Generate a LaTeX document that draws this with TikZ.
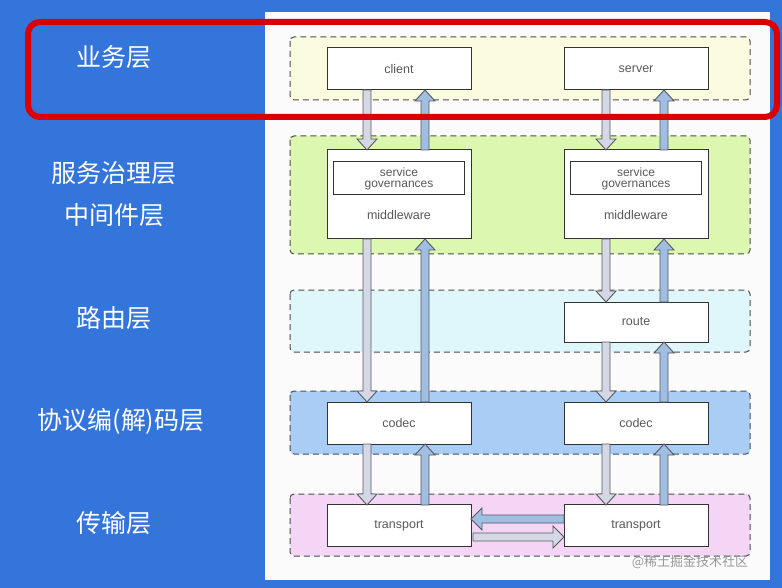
\documentclass[tikz,border=0pt]{standalone}
\usepackage{fontspec}
\setmainfont{Liberation Sans}
\newfontfamily\cjk{Noto Sans CJK SC}
\begin{document}
\begin{tikzpicture}[x=1pt,y=-1pt,
  band/.style={draw=black!70,dashed,line width=1pt,rounded corners=4pt,dash pattern=on 6pt off 4pt},
  comp/.style={draw=black!80,line width=1pt,fill=white,text=black!65,font=\fontsize{12.5}{13}\selectfont,minimum width=144pt,minimum height=42pt,inner sep=0pt},
  lab/.style={text=white,font=\cjk\fontsize{25}{30}\selectfont},
  arrowline/.style={draw=black!65,line width=0.9pt,line join=miter}]
\useasboundingbox (0,0) rectangle (782,588);
\fill[fill={rgb,255:red,52;green,117;blue,220}] (0,0) rectangle (782,588);
\fill[white!97!gray] (265,12) rectangle (770,580);
% bands
\draw[band,fill={rgb,255:red,251;green,251;blue,223}] (290,37) rectangle (750,100);
\draw[band,fill={rgb,255:red,220;green,247;blue,176}] (290,136) rectangle (750,254);
\draw[band,fill={rgb,255:red,223;green,247;blue,250}] (290,290) rectangle (750,352);
\draw[band,fill={rgb,255:red,169;green,205;blue,245}] (290,391) rectangle (750,454);
\draw[band,fill={rgb,255:red,245;green,213;blue,245}] (290,494) rectangle (750,556);
% arrows
\newcommand\dnarr[4]{\draw[arrowline,fill=#4] (#1-4,#2) -- (#1-4,#3-11) -- (#1-10,#3-11) -- (#1,#3) -- (#1+10,#3-11) -- (#1+4,#3-11) -- (#1+4,#2) -- cycle;}
\newcommand\uparr[4]{\draw[arrowline,fill=#4] (#1-4,#2) -- (#1-4,#3+11) -- (#1-10,#3+11) -- (#1,#3) -- (#1+10,#3+11) -- (#1+4,#3+11) -- (#1+4,#2) -- cycle;}
\definecolor{upc}{RGB}{160,190,226}
\definecolor{dnc}{RGB}{212,216,230}
% components
\node[comp] (client) at (399,69) {client};
\node[comp] (server) at (636,69) {server};
\node[comp,minimum height=89pt] (mwl) at (399,194.5) {};
\node[comp,minimum height=89pt] (mwr) at (636,194.5) {};
\foreach \n/\x in {l/399,r/636}{
  \node[draw=black!80,line width=1pt,minimum width=131pt,minimum height=33pt,inner sep=0pt,text=black!65,font=\fontsize{12}{12}\selectfont,align=center] (sg\n) at (\x,178.5) {service\\[-1pt]governances};
  \node[text=black!65,font=\fontsize{12.5}{13}\selectfont] (mt\n) at (\x,215) {middleware};
}
\node[comp,minimum height=40pt] (route) at (636,322) {route};
\node[comp] (codecl) at (399,423) {codec};
\node[comp] (codecr) at (636,423) {codec};
\node[comp] (transl) at (399,525.5) {transport};
\node[comp] (transr) at (636,525.5) {transport};
\dnarr{367}{90}{150}{dnc}  \uparr{425}{150}{90}{upc}
\dnarr{606}{90}{150}{dnc}  \uparr{664}{150}{90}{upc}
\dnarr{367}{239}{402}{dnc} \uparr{425}{402}{239}{upc}
\dnarr{606}{239}{302}{dnc} \uparr{664}{302}{239}{upc}
\dnarr{606}{342}{402}{dnc} \uparr{664}{402}{342}{upc}
\dnarr{367}{444}{505}{dnc} \uparr{425}{505}{444}{upc}
\dnarr{606}{444}{505}{dnc} \uparr{664}{505}{444}{upc}
\draw[arrowline,fill=upc] (564,515) -- (482,515) -- (482,508) -- (471,519) -- (482,530) -- (482,523) -- (564,523) -- cycle;
\draw[arrowline,fill=dnc] (473,533) -- (553,533) -- (553,526) -- (564,537) -- (553,548) -- (553,541) -- (473,541) -- cycle;
% red frame
\draw[red!85!black,line width=6pt,rounded corners=12pt] (28,22) rectangle (777,117);
% labels
\node[lab] (l1) at (114,57) {业务层};
\node[lab] (l2) at (114,173) {服务治理层};
\node[lab] (l3) at (114,215) {中间件层};
\node[lab] (l4) at (114,318) {路由层};
\node[lab] (l5) at (121,421) {协议编(解)码层};
\node[lab] (l6) at (114,523) {传输层};
\node[text=black!40,font=\cjk\fontsize{13}{14}\selectfont] (wm) at (690,562) {@稀土掘金技术社区};
\end{tikzpicture}
\end{document}
